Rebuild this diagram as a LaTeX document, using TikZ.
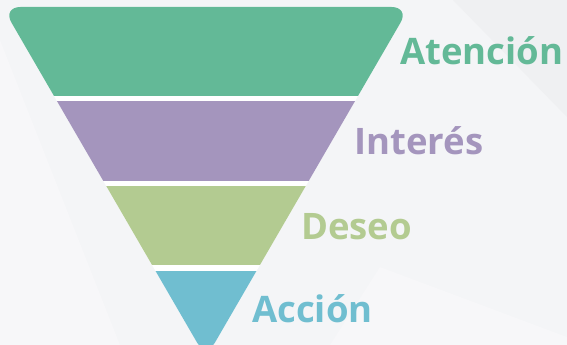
\documentclass[tikz,border=0pt]{standalone}
\usepackage{fontspec}
\setmainfont{Open Sans}
\definecolor{bg}{HTML}{F4F5F7}
\definecolor{bgdark}{HTML}{EFF0F2}
\definecolor{bglight}{HTML}{F7F7F9}
\definecolor{cA}{HTML}{63B997}
\definecolor{cI}{HTML}{A495BD}
\definecolor{cD}{HTML}{B3CB91}
\definecolor{cC}{HTML}{70BED0}
\tikzset{
  lbl/.style={anchor=base west, inner sep=0pt, font=\fontsize{36.5}{40}\selectfont\bfseries}
}
\begin{document}
\begin{tikzpicture}[x=1pt,y=-1pt]
\useasboundingbox (0,0) rectangle (567,345);
\fill[bg] (0,0) rectangle (567,345);
\fill[bglight] (0,40) -- (120,345) -- (0,345) -- cycle;
\fill[bglight] (380,267) -- (567,337) -- (567,345) -- (330,345) -- cycle;
\fill[bgdark] (453,0) -- (567,0) -- (567,117) -- cycle;
\begin{scope}
  \clip[rounded corners=18pt] (2.4,7) -- (409.6,7) -- (206,358) -- cycle;
  \fill[white] (0,0) rectangle (420,360);
  \fill[cA] (0,0) rectangle (420,96);
  \fill[cI] (0,101) rectangle (420,181);
  \fill[cD] (0,186) rectangle (420,265);
  \fill[cC] (0,271) rectangle (420,360);
\end{scope}
\node[lbl, text=cA] (atencion) at (400,64) {Atención};
\node[lbl, text=cI] (interes) at (354,154) {Interés};
\node[lbl, text=cD] (deseo) at (301,239) {Deseo};
\node[lbl, text=cC] (accion) at (252,322) {Acción};
\end{tikzpicture}
\end{document}
